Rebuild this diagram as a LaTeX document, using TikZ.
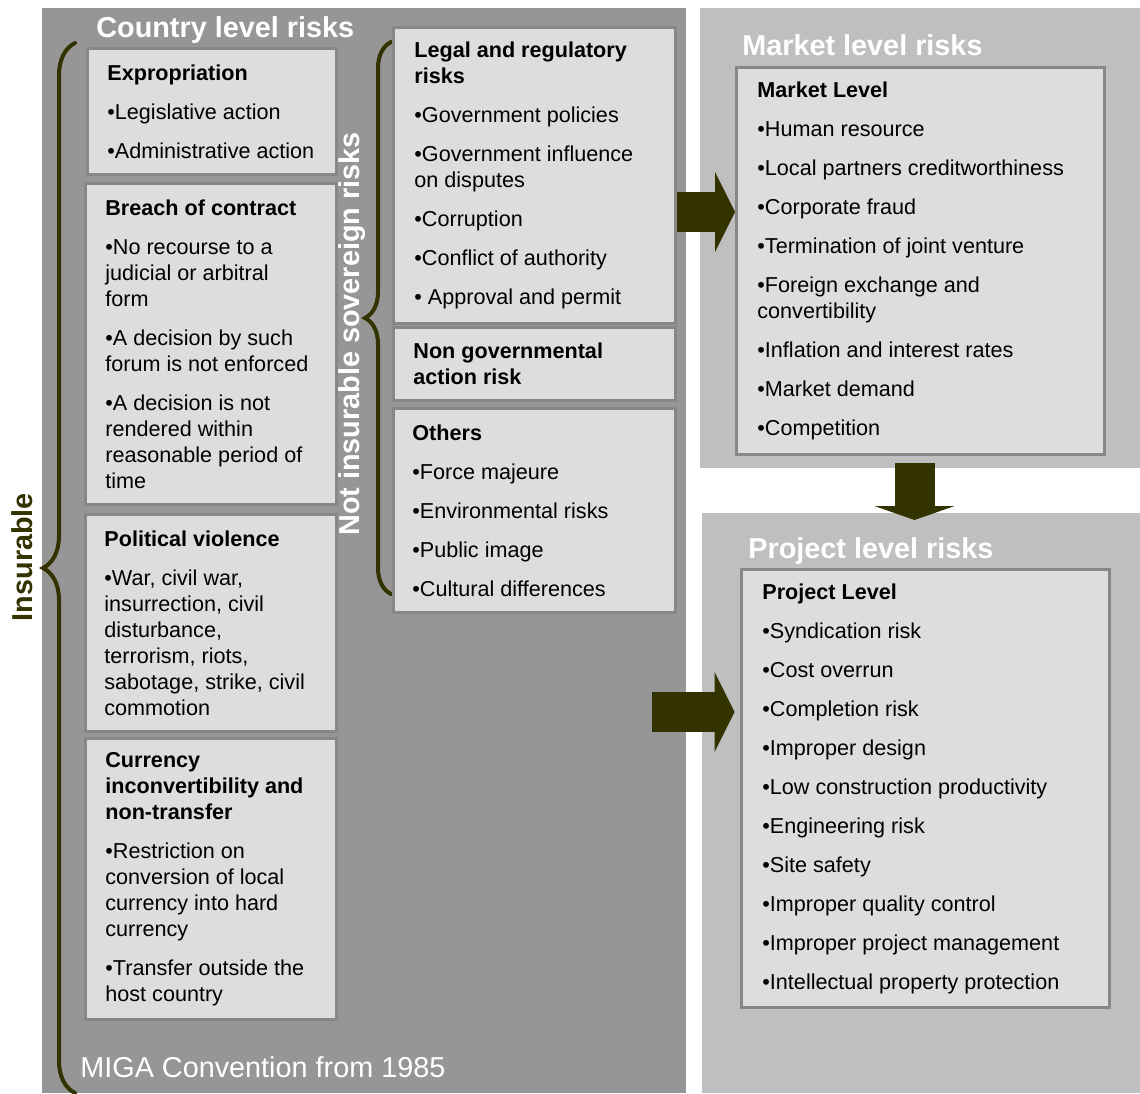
\documentclass[tikz,border=0pt]{standalone}
\usepackage{fontspec}
\setmainfont{Liberation Sans}
\usepackage{tikz}
\usetikzlibrary{arrows.meta,positioning,decorations.pathreplacing}
\definecolor{countrybg}{HTML}{969696}
\definecolor{levelbg}{HTML}{BFBFBF}
\definecolor{boxfill}{HTML}{DDDDDD}
\definecolor{boxline}{HTML}{878787}
\definecolor{darkolive}{HTML}{333300}

\begin{document}
\begin{tikzpicture}[x=0.5pt, y=-0.5pt,
 panel/.style={anchor=north west, inner sep=0pt, outer sep=0pt},
 riskbox/.style={draw=boxline, line width=1.5pt, fill=boxfill, anchor=north west, inner sep=0pt},
 risktext/.style={align=left, inner sep=0pt, font=\fontsize{10.8}{13}\selectfont},
 paneltitle/.style={anchor=base west, inner sep=0pt, text=white, font=\fontsize{14.4}{17}\selectfont\bfseries},
 blockarrow/.style={draw=darkolive, line width=20pt, -{Triangle[length=10pt, width=40pt, line width=0pt]}},
 bracket/.style={draw=darkolive, line width=2pt, line cap=round, decorate, decoration={brace, amplitude=#1}}]
\useasboundingbox (0,0) rectangle (1140,1093);
\node[panel, fill=countrybg, minimum width=322pt, minimum height=542.5pt] (country) at (42,8) {};
\node[panel, fill=levelbg, minimum width=220pt, minimum height=230pt] (mkpanel) at (700,8) {};
\node[panel, fill=levelbg, minimum width=219pt, minimum height=290pt] (pjpanel) at (702,513) {};
\node[paneltitle] (countrytitle) at (96,37) {Country level risks};
\node[paneltitle] (markettitle) at (742,55) {Market level risks};
\node[paneltitle] (projecttitle) at (748,558) {Project level risks};
\node[anchor=base west, inner sep=0pt, text=white, font=\fontsize{14.4}{17}\selectfont] (miga) at (80,1077) {MIGA Convention from 1985};
% braces
\draw[bracket=16pt] (75,1093) -- (75,43);
\draw[bracket=13pt] (391,594) -- (391,42);
\node[rotate=90, inner sep=0pt, text=darkolive, font=\fontsize{14.4}{17}\selectfont\bfseries] (insurable) at (22,557) {Insurable};
\node[rotate=90, inner sep=0pt, text=white, font=\fontsize{14.4}{17}\selectfont\bfseries] (notinsurable) at (352,334) {Not insurable sovereign risks};
% country level
\node[riskbox, minimum width=124.5pt, minimum height=63pt] (expro) at (86,47) {};
\node[risktext, right=10.5pt of expro.west] (exprotxt) {\textbf{Expropriation}\\[6.5pt] •Legislative action\\[6.5pt] •Administrative action};
\node[riskbox, minimum width=125.5pt, minimum height=160.5pt] (breach) at (84,182) {};
\node[risktext, right=10.5pt of breach.west] (breachtxt) {\textbf{Breach of contract}\\[6.5pt] •No recourse to a\\ judicial or arbitral\\ form\\[6.5pt] •A decision by such\\ forum is not enforced\\[6.5pt] •A decision is not\\ rendered within\\ reasonable period of\\ time};
\node[riskbox, minimum width=125.5pt, minimum height=108.5pt] (violence) at (84,513) {};
\node[risktext, right=10pt of violence.west] (violencetxt) {\textbf{Political violence}\\[6.5pt] •War, civil war,\\ insurrection, civil\\ disturbance,\\ terrorism, riots,\\ sabotage, strike, civil\\ commotion};
\node[riskbox, minimum width=125.5pt, minimum height=140.5pt] (currency) at (84,737) {};
\node[risktext, right=10.5pt of currency.west] (currencytxt) {\textbf{Currency}\\ \textbf{inconvertibility and}\\ \textbf{non-transfer}\\[6.5pt] •Restriction on\\ conversion of local\\ currency into hard\\ currency\\[6.5pt] •Transfer outside the\\ host country};
\node[riskbox, minimum width=141pt, minimum height=148pt] (legal) at (392,26) {};
\node[risktext, right=11pt of legal.west] (legaltxt) {\textbf{Legal and regulatory}\\ \textbf{risks}\\[6.5pt] •Government policies\\[6.5pt] •Government influence\\ on disputes\\[6.5pt] •Corruption\\[6.5pt] •Conflict of authority\\[6.5pt] • Approval and permit};
\node[riskbox, minimum width=141pt, minimum height=36.5pt] (nongov) at (392,326) {};
\node[risktext, right=10.5pt of nongov.west] (nongovtxt) {\textbf{Non governmental}\\ \textbf{action risk}};
\node[riskbox, minimum width=141pt, minimum height=102pt] (others) at (392,407) {};
\node[risktext, right=10pt of others.west] (otherstxt) {\textbf{Others}\\[6.5pt] •Force majeure\\[6.5pt] •Environmental risks\\[6.5pt] •Public image\\[6.5pt] •Cultural differences};
% market and project level
\node[riskbox, minimum width=184pt, minimum height=193.5pt] (market) at (735,66) {};
\node[risktext, right=11pt of market.west] (markettxt) {\textbf{Market Level}\\[6.5pt] •Human resource\\[6.5pt] •Local partners creditworthiness\\[6.5pt] •Corporate fraud\\[6.5pt] •Termination of joint venture\\[6.5pt] •Foreign exchange and\\ convertibility\\[6.5pt] •Inflation and interest rates\\[6.5pt] •Market demand\\[6.5pt] •Competition};
\node[riskbox, minimum width=184pt, minimum height=219pt] (project) at (740,568) {};
\node[risktext, right=11pt of project.west] (projecttxt) {\textbf{Project Level}\\[6.5pt] •Syndication risk\\[6.5pt] •Cost overrun\\[6.5pt] •Completion risk\\[6.5pt] •Improper design\\[6.5pt] •Low construction productivity\\[6.5pt] •Engineering risk\\[6.5pt] •Site safety\\[6.5pt] •Improper quality control\\[6.5pt] •Improper project management\\[6.5pt] •Intellectual property protection};
% arrows
\coordinate (arrone) at (0,212);
\coordinate (arrtwo) at (914.5,0);
\coordinate (arrthree) at (652,712);
\draw[blockarrow] (legal.east |- arrone) -- (market.west |- arrone);
\draw[blockarrow, -{Triangle[length=7pt, width=40pt, line width=0pt]}] ([yshift=2.5pt]mkpanel.south -| arrtwo) -- ([yshift=-3.5pt]pjpanel.north -| arrtwo);
\draw[blockarrow, shorten >=2.75pt] (arrthree) -- (project.west |- arrthree);
\end{tikzpicture}
\end{document}
